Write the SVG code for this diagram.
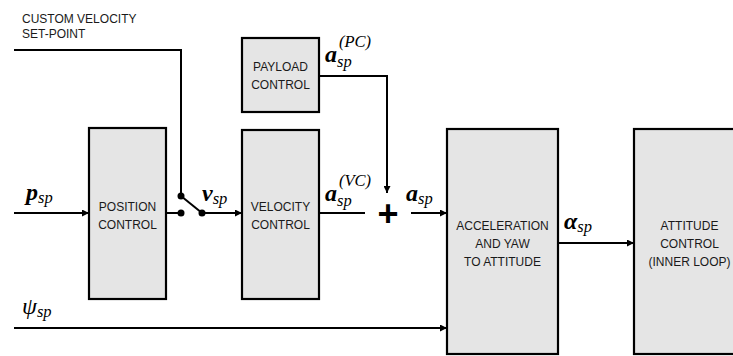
<svg xmlns="http://www.w3.org/2000/svg" width="733" height="356" viewBox="0 0 733 356">
<style>
.box{fill:#e5e5e5;stroke:#000;stroke-width:2.2}
.lbl{font-family:"Liberation Sans",Arial,sans-serif;font-size:12px;fill:#1a1a1a;text-anchor:middle}
.top{font-family:"Liberation Sans",Arial,sans-serif;font-size:12px;fill:#1a1a1a}
.ln{fill:none;stroke:#000;stroke-width:2}
.m{font-family:"Liberation Serif","Times New Roman",serif;font-style:italic;fill:#000}
.mb{font-weight:bold;font-size:24px}
.ms{font-size:16.5px}
.dot{fill:#000}
</style>
<defs>
<marker id="ah" viewBox="0 0 10 10" refX="10" refY="5" markerWidth="9" markerHeight="7" markerUnits="userSpaceOnUse" orient="auto">
<path d="M0,0 L10,5 L0,10 z" fill="#000"/>
</marker>
</defs>
<text class="top" x="22" y="23">CUSTOM VELOCITY</text>
<text class="top" x="22" y="38">SET-POINT</text>
<g id="position-control">
<rect class="box" x="89" y="128" width="77" height="171"/>
<text class="lbl" x="127.5" y="211">POSITION</text>
<text class="lbl" x="127.5" y="229">CONTROL</text>
</g>
<g id="velocity-control">
<rect class="box" x="242" y="130" width="77" height="169"/>
<text class="lbl" x="280.5" y="211">VELOCITY</text>
<text class="lbl" x="280.5" y="229">CONTROL</text>
</g>
<g id="payload-control">
<rect class="box" x="242" y="38" width="77" height="74"/>
<text class="lbl" x="280.5" y="71">PAYLOAD</text>
<text class="lbl" x="280.5" y="89">CONTROL</text>
</g>
<g id="accel-to-attitude">
<rect class="box" x="447" y="129" width="111" height="225"/>
<text class="lbl" x="502.5" y="230">ACCELERATION</text>
<text class="lbl" x="502.5" y="248">AND YAW</text>
<text class="lbl" x="502.5" y="266">TO ATTITUDE</text>
</g>
<g id="attitude-control">
<rect class="box" x="634" y="129" width="111" height="225"/>
<text class="lbl" x="689.5" y="230">ATTITUDE</text>
<text class="lbl" x="689.5" y="248">CONTROL</text>
<text class="lbl" x="689.5" y="266">(INNER LOOP)</text>
</g>
<g id="sum">
<text x="388" y="226" style="font-family:'Liberation Sans',Arial,sans-serif;font-weight:bold;font-size:36px;text-anchor:middle">+</text>
</g>
<g id="connectors">
<path class="ln" d="M14,50 H181 V196"/>
<path class="ln" d="M14,213 H89" marker-end="url(#ah)"/>
<path class="ln" d="M166,213 H181"/>
<path class="ln" d="M181,196 L202,213"/>
<path class="ln" d="M202,213 H242" marker-end="url(#ah)"/>
<path class="ln" d="M319,213 H365"/>
<path class="ln" d="M319,76 H387 V193" marker-end="url(#ah)"/>
<path class="ln" d="M411,213 H447" marker-end="url(#ah)"/>
<path class="ln" d="M558,243 H634" marker-end="url(#ah)"/>
<path class="ln" d="M14,328 H447" marker-end="url(#ah)"/>
<circle class="dot" cx="181" cy="196" r="3.5"/>
<circle class="dot" cx="181" cy="213" r="3.5"/>
<circle class="dot" cx="202" cy="213" r="3.5"/>
</g>
<g id="math-labels">
<text class="m" x="26" y="200"><tspan class="mb">p</tspan><tspan class="ms" dy="3">sp</tspan></text>
<text class="m" x="22" y="314"><tspan style="font-size:24px">ψ</tspan><tspan class="ms" dy="3">sp</tspan></text>
<text class="m" x="202" y="201"><tspan class="mb">v</tspan><tspan class="ms" dy="3">sp</tspan></text>
<text class="m" x="325" y="201"><tspan class="mb">a</tspan><tspan class="ms" dy="5">sp</tspan></text>
<text class="m ms" x="339" y="186">(VC)</text>
<text class="m" x="325" y="62"><tspan class="mb">a</tspan><tspan class="ms" dy="5">sp</tspan></text>
<text class="m ms" x="339" y="47">(PC)</text>
<text class="m" x="406" y="201"><tspan class="mb">a</tspan><tspan class="ms" dy="3">sp</tspan></text>
<text class="m" x="564" y="229"><tspan class="mb">α</tspan><tspan class="ms" dy="3">sp</tspan></text>
</g>
</svg>
